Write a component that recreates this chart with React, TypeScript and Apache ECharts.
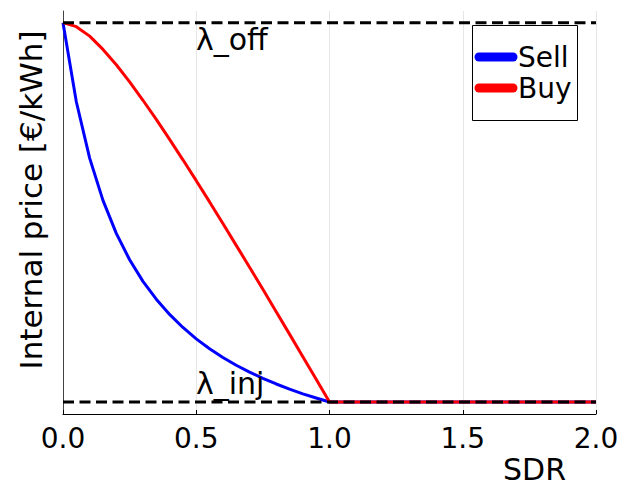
import React, { useEffect, useRef } from "react";
import * as echarts from "echarts";

// Self-consumption ratio (SDR) grid, step 0.05 up to 1, then flat to 2
const sdr = [
  0, 0.05, 0.1, 0.15, 0.2, 0.25, 0.3, 0.35, 0.4, 0.45, 0.5, 0.55, 0.6, 0.65,
  0.7, 0.75, 0.8, 0.85, 0.9, 0.95, 1.0, 1.5, 2.0,
];

// Internal selling price [€/kWh]
const sellPrice = [
  0.25, 0.2083, 0.1786, 0.1563, 0.1389, 0.125, 0.1136, 0.1042, 0.0962, 0.0893,
  0.0833, 0.0781, 0.0735, 0.0694, 0.0658, 0.0625, 0.0595, 0.0568, 0.0543,
  0.0521, 0.05, 0.05, 0.05,
];

// Internal buying price [€/kWh]
const buyPrice = [
  0.25, 0.2479, 0.2429, 0.2359, 0.2278, 0.2188, 0.2091, 0.199, 0.1885, 0.1777,
  0.1667, 0.1555, 0.1441, 0.1326, 0.1211, 0.1094, 0.0976, 0.0858, 0.0739,
  0.062, 0.05, 0.05, 0.05,
];

// Grid tariffs
const lambdaOff = 0.25;
const lambdaInj = 0.05;

const xTicks = [0, 0.5, 1.0, 1.5, 2.0];

const FONT = "DejaVu Sans";

export default function App() {
  const ref = useRef<HTMLDivElement>(null);

  useEffect(() => {
    if (!ref.current) return;
    const chart = echarts.init(ref.current, undefined, { renderer: "svg" });
    const span = lambdaOff - lambdaInj;
    const xMin = xTicks[0];
    const xMax = xTicks[xTicks.length - 1];
    const dashed = { color: "#000", width: 3, type: [11, 5.5] };

    chart.setOption({
      animation: false,
      backgroundColor: "#ffffff",
      textStyle: { fontFamily: FONT },
      grid: {
        left: 63,
        right: 21,
        top: 11,
        bottom: 73,
        containLabel: false,
        outerBoundsMode: "none",
      },
      xAxis: {
        type: "value",
        min: xMin,
        max: xMax,
        interval: 0.5,
        axisLine: { show: true, lineStyle: { color: "#000", width: 1 } },
        axisTick: {
          show: true,
          inside: true,
          length: 4,
          lineStyle: { color: "#000", width: 1 },
        },
        axisLabel: {
          color: "#000",
          fontSize: 28,
          fontFamily: FONT,
          margin: 10,
          showMinLabel: true,
          showMaxLabel: true,
          formatter: (v: number) => v.toFixed(1),
        },
        splitLine: { show: true, lineStyle: { color: "#e6e6e6", width: 1 } },
      },
      yAxis: {
        type: "value",
        min: lambdaInj - 0.0316 * span,
        max: lambdaOff + 0.0308 * span,
        axisLine: { show: true, onZero: false, lineStyle: { color: "#444", width: 1 } },
        axisTick: { show: false },
        axisLabel: { show: false },
        splitLine: { show: false },
      },
      series: [
        {
          name: "Sell",
          type: "line",
          data: sdr.map((x, i) => [x, sellPrice[i]]),
          showSymbol: false,
          lineStyle: { color: "#0000ff", width: 3 },
          z: 2,
        },
        {
          name: "Buy",
          type: "line",
          data: sdr.map((x, i) => [x, buyPrice[i]]),
          showSymbol: false,
          lineStyle: { color: "#ff0000", width: 3 },
          z: 3,
        },
        {
          name: "λ_off",
          type: "line",
          data: [
            [xMin, lambdaOff],
            [xMax, lambdaOff],
          ],
          showSymbol: false,
          lineStyle: dashed,
          z: 4,
        },
        {
          name: "λ_inj",
          type: "line",
          data: [
            [xMin, lambdaInj],
            [xMax, lambdaInj],
          ],
          showSymbol: false,
          lineStyle: dashed,
          z: 4,
        },
      ],
      graphic: [
        {
          type: "text",
          left: 196,
          top: 24,
          style: { text: "λ_off", fontSize: 30, fontFamily: FONT, fill: "#000" },
          z: 10,
        },
        {
          type: "text",
          left: 196,
          top: 368,
          style: { text: "λ_inj", fontSize: 30, fontFamily: FONT, fill: "#000" },
          z: 10,
        },
        {
          type: "text",
          left: 503,
          top: 454,
          style: { text: "SDR", fontSize: 30, fontFamily: FONT, fill: "#000" },
        },
        {
          type: "text",
          x: 31,
          y: 200,
          rotation: Math.PI / 2,
          style: {
            text: "Internal price [€/kWh]",
            fontSize: 31,
            fontFamily: FONT,
            fill: "#000",
            align: "center",
            verticalAlign: "middle",
          },
        },
        // legend box
        {
          type: "group",
          z: 20,
          children: [
            {
              type: "rect",
              shape: { x: 472.5, y: 25.5, width: 105, height: 95 },
              style: { fill: "#fff", stroke: "#000", lineWidth: 1 },
            },
            {
              type: "line",
              shape: { x1: 479, y1: 57, x2: 513, y2: 57 },
              style: { stroke: "#0000ff", lineWidth: 9, lineCap: "round" },
            },
            {
              type: "text",
              x: 518,
              y: 57,
              style: {
                text: "Sell",
                fontSize: 28,
                fontFamily: FONT,
                fill: "#000",
                verticalAlign: "middle",
              },
            },
            {
              type: "line",
              shape: { x1: 479, y1: 88, x2: 513, y2: 88 },
              style: { stroke: "#ff0000", lineWidth: 9, lineCap: "round" },
            },
            {
              type: "text",
              x: 518,
              y: 88,
              style: {
                text: "Buy",
                fontSize: 28,
                fontFamily: FONT,
                fill: "#000",
                verticalAlign: "middle",
              },
            },
          ],
        },
      ],
    });

    return () => chart.dispose();
  }, []);

  return (
    <div
      ref={ref}
      style={{ position: "fixed", left: 0, top: 0, width: 617, height: 487 }}
    />
  );
}
